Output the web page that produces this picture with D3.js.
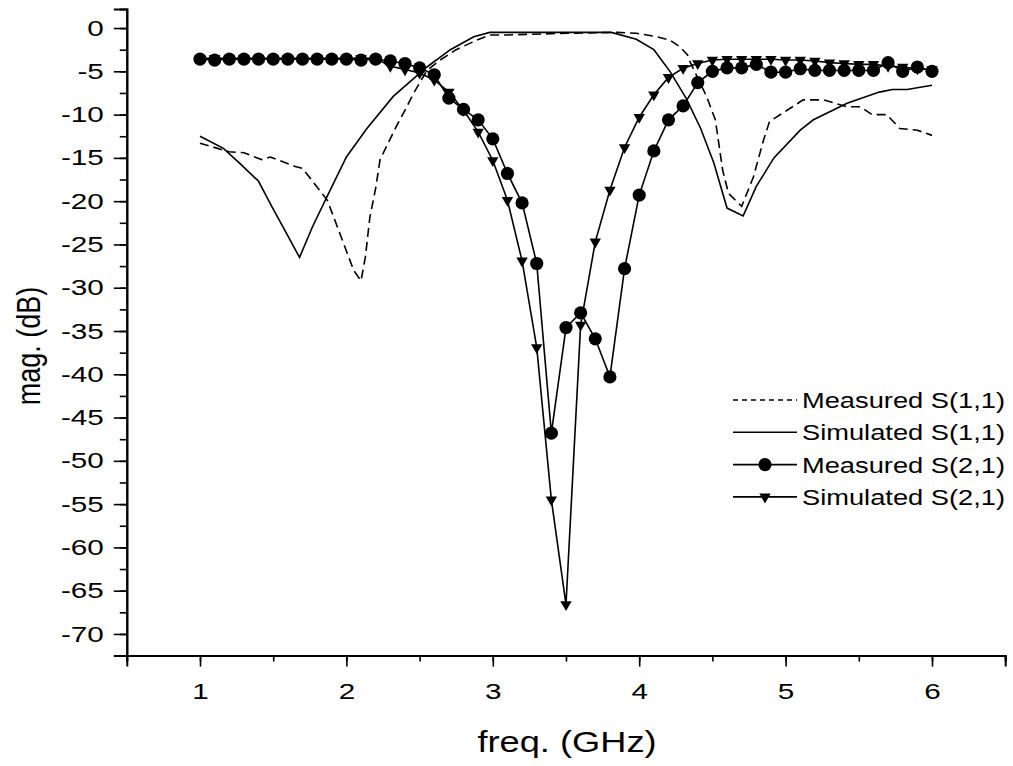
<!DOCTYPE html>
<html>
<head>
<meta charset="utf-8" />
<title>S-parameters</title>
<script src="https://cdnjs.cloudflare.com/ajax/libs/d3/7.8.5/d3.min.js"></script>
<style>
  body { margin: 0; background: #fff; }
  svg { display: block; font-family: "Liberation Sans", Arial, sans-serif; }
</style>
</head>
<body>
<svg id="chart" width="1013" height="766"></svg>
<script>
// measured S(1,1), dashed
let measS11Freq = [1.0, 1.2, 1.3, 1.42, 1.48, 1.65, 1.7, 1.87, 2.05, 2.1, 2.13, 2.16, 2.2, 2.23, 2.34, 2.4, 2.46, 2.55, 2.64, 2.75, 2.89, 2.98, 3.1, 3.5, 3.85, 3.98, 4.12, 4.21, 4.28, 4.33, 4.35, 4.46, 4.52, 4.57, 4.61, 4.7, 4.78, 4.85, 4.89, 5.01, 5.12, 5.26, 5.42, 5.51, 5.59, 5.69, 5.78, 5.9, 6.0]
let measS11 = [-13.3, -14.3, -14.4, -15.2, -14.9, -16.0, -16.2, -19.9, -28.0, -29.2, -26.4, -21.9, -18.5, -15.2, -11.4, -9.5, -7.5, -4.9, -3.7, -2.5, -1.4, -0.8, -0.8, -0.6, -0.5, -0.6, -1.0, -1.4, -2.2, -3.1, -4.0, -7.9, -10.6, -16.4, -19.1, -20.6, -17.2, -12.9, -10.8, -9.5, -8.3, -8.3, -9.1, -9.1, -10.0, -10.0, -11.6, -11.8, -12.4]

// simulated S(1,1), solid
let simS11Freq = [1.0, 1.16, 1.27, 1.4, 1.49, 1.59, 1.68, 1.77, 1.89, 2.0, 2.14, 2.32, 2.55, 2.71, 2.87, 2.98, 3.81, 3.98, 4.1, 4.21, 4.32, 4.42, 4.51, 4.6, 4.71, 4.8, 4.92, 5.1, 5.19, 5.42, 5.64, 5.73, 5.83, 6.0]
let simS11 = [-12.5, -13.9, -15.6, -17.7, -20.6, -23.7, -26.5, -22.9, -18.7, -14.9, -11.6, -7.9, -4.5, -2.5, -1.0, -0.5, -0.5, -1.3, -2.5, -5.0, -8.1, -11.6, -15.6, -20.8, -21.7, -18.3, -15.0, -11.8, -10.6, -8.7, -7.4, -7.1, -7.1, -6.6]

// S(2,1) sweep points
let freqS21 = [1.0, 1.1, 1.2, 1.3, 1.4, 1.5, 1.6, 1.7, 1.8, 1.9, 2.0, 2.1, 2.2, 2.3, 2.4, 2.5, 2.6, 2.7, 2.8, 2.9, 3.0, 3.1, 3.2, 3.3, 3.4, 3.5, 3.6, 3.7, 3.8, 3.9, 4.0, 4.1, 4.2, 4.3, 4.4, 4.5, 4.6, 4.7, 4.8, 4.9, 5.0, 5.1, 5.2, 5.3, 5.4, 5.5, 5.6, 5.7, 5.8, 5.9, 6.0]
let measS21 = [-3.6, -3.7, -3.6, -3.6, -3.6, -3.6, -3.6, -3.6, -3.6, -3.6, -3.6, -3.7, -3.6, -3.8, -4.1, -4.6, -5.4, -8.1, -9.4, -10.6, -12.8, -16.8, -20.2, -27.2, -46.8, -34.6, -32.9, -35.9, -40.3, -27.8, -19.3, -14.2, -10.6, -9.0, -6.3, -5.0, -4.6, -4.6, -4.2, -5.1, -5.1, -4.7, -4.9, -4.9, -4.9, -4.9, -4.9, -4.0, -5.0, -4.5, -5.0]
let simS21 = [-3.5, -3.5, -3.5, -3.5, -3.5, -3.5, -3.5, -3.5, -3.5, -3.5, -3.5, -3.5, -3.5, -4.4, -4.8, -5.2, -6.0, -7.4, -9.5, -12.0, -15.3, -19.9, -26.9, -36.9, -54.5, -66.6, -34.3, -24.7, -18.7, -13.8, -10.3, -7.7, -5.7, -4.65, -4.1, -3.7, -3.6, -3.6, -3.6, -3.6, -3.7, -3.7, -3.8, -4.0, -4.1, -4.2, -4.2, -4.4, -4.5, -4.7, -4.8]

let xTicks = [1, 2, 3, 4, 5, 6]
let yTicks = [0, -5, -10, -15, -20, -25, -30, -35, -40, -45, -50, -55, -60, -65, -70]
let legendLabels = ['Measured S(1,1)', 'Simulated S(1,1)', 'Measured S(2,1)', 'Simulated S(2,1)']

const svg = d3.select('#chart')
const stretch = 1.25  // glyphs in the figure are wide
const tickStretch = 1.35

let xScale = d3.scaleLinear().domain([0.5, 6.5]).range([126.8, 1005.2])
let yScale = d3.scaleLinear().domain([-72.5, 2.2]).range([655.6, 9])

function zip(fs, vs) { return fs.map((f, i) => ({ f: f, v: vs[i] })) }
let line = d3.line().x(d => xScale(d.f)).y(d => yScale(d.v))

// axes: minor ticks first, then major with labels
svg.append('g').attr('transform', 'translate(0,655.6)')
  .call(d3.axisBottom(xScale).tickValues(d3.range(0.5, 6.51, 0.5)).tickSize(6).tickFormat(''))
svg.append('g').attr('transform', 'translate(126.8,0)')
  .call(d3.axisLeft(yScale).tickValues(d3.range(-72.5, 2.3, 2.5)).tickSize(7).tickFormat(''))

let xAxis = svg.append('g').attr('transform', 'translate(0,655.6)')
  .call(d3.axisBottom(xScale).tickValues(xTicks).tickSize(11).tickPadding(13).tickFormat(d3.format('d')))
let yAxis = svg.append('g').attr('transform', 'translate(126.8,0)')
  .call(d3.axisLeft(yScale).tickValues(yTicks).tickSize(13).tickPadding(9).tickFormat(d => d))

svg.selectAll('.domain').attr('stroke', '#000').attr('stroke-width', 2)
svg.selectAll('.tick line').attr('stroke', '#000').attr('stroke-width', 1.6)
xAxis.selectAll('text').attr('font-size', 22).attr('fill', '#000').attr('font-family', null)
  .attr('transform', `scale(${tickStretch},1)`).attr('dy', '0.9em')
yAxis.selectAll('text').attr('font-size', 22).attr('fill', '#000').attr('font-family', null)
  .attr('x', -23 / tickStretch).attr('transform', `scale(${tickStretch},1)`)

// axis titles
svg.append('text').attr('transform', `translate(567,752) scale(${stretch},1)`)
  .attr('text-anchor', 'middle').attr('font-size', 29).text('freq. (GHz)')
svg.append('text').attr('transform', `translate(40,346) rotate(-90) scale(1,${stretch})`)
  .attr('text-anchor', 'middle').attr('font-size', 27).text('mag. (dB)')

// curves
svg.append('path').datum(zip(measS11Freq, measS11)).attr('d', line)
  .attr('fill', 'none').attr('stroke', '#000').attr('stroke-width', 1.6).attr('stroke-dasharray', '9,5')
svg.append('path').datum(zip(simS11Freq, simS11)).attr('d', line)
  .attr('fill', 'none').attr('stroke', '#000').attr('stroke-width', 1.6)

let tri = d3.symbol().type(d3.symbolTriangle).size(56)
let simData = zip(freqS21, simS21)
svg.append('path').datum(simData).attr('d', line)
  .attr('fill', 'none').attr('stroke', '#000').attr('stroke-width', 1.6)
svg.append('g').selectAll('path').data(simData).enter().append('path')
  .attr('d', tri)
  .attr('transform', d => `translate(${xScale(d.f)},${yScale(d.v)}) rotate(180)`)
  .attr('fill', '#000')

let measData = zip(freqS21, measS21)
svg.append('path').datum(measData).attr('d', line)
  .attr('fill', 'none').attr('stroke', '#000').attr('stroke-width', 1.6)
svg.append('g').selectAll('circle').data(measData).enter().append('circle')
  .attr('cx', d => xScale(d.f)).attr('cy', d => yScale(d.v)).attr('r', 6.6).attr('fill', '#000')

// legend
let legendTop = 400, legendStep = 32.3
let legend = svg.append('g')
legendLabels.forEach(function(label, i) {
  let y = legendTop + i * legendStep
  let ln = legend.append('line').attr('x1', 733).attr('x2', 797).attr('y1', y).attr('y2', y)
    .attr('stroke', '#000').attr('stroke-width', 1.6)
  if (i === 0) ln.attr('stroke-dasharray', '5,4')
  if (i === 2) legend.append('circle').attr('cx', 765).attr('cy', y).attr('r', 6.6).attr('fill', '#000')
  if (i === 3) legend.append('path').attr('d', tri).attr('transform', `translate(765,${y}) rotate(180)`).attr('fill', '#000')
  legend.append('text').attr('transform', `translate(802,${y}) scale(1.24,1)`)
    .attr('dy', '0.36em').attr('font-size', 22).text(label)
})
</script>
</body>
</html>
